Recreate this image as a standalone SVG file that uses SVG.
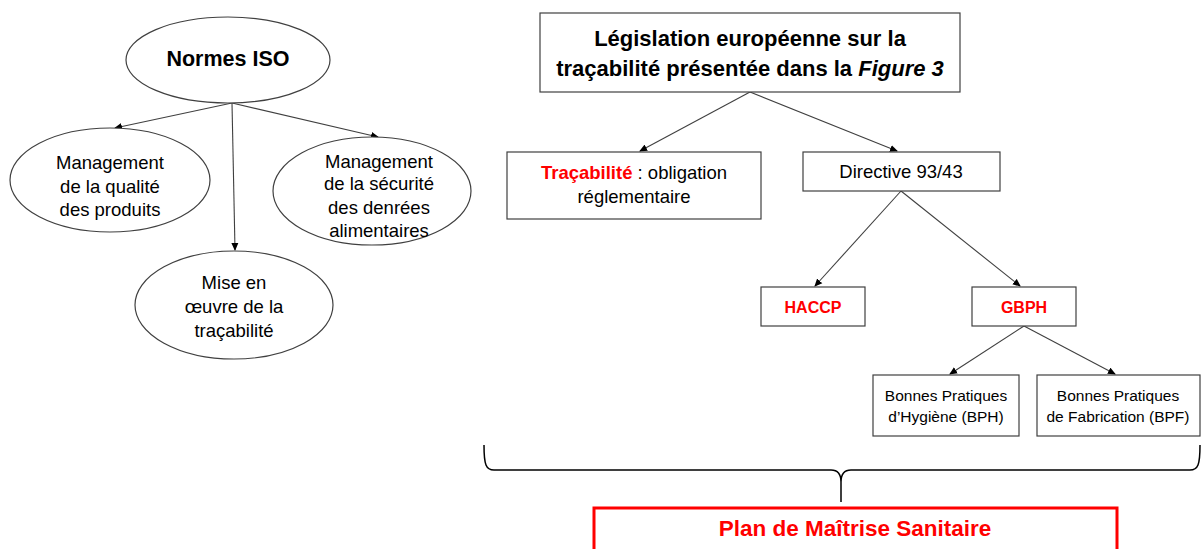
<svg xmlns="http://www.w3.org/2000/svg" width="1201" height="549" viewBox="0 0 1201 549">
<style>
.shape{fill:#fff;stroke:#404040;stroke-width:1.2}
.conn{stroke:#404040;stroke-width:1.1;fill:none}
text{font-family:"Liberation Sans",Arial,sans-serif;fill:#000;text-anchor:middle}
.t17{font-size:18.5px}
.t18{font-size:18.5px}
.t15{font-size:15.5px}
.b{font-weight:bold}
.red{fill:#ff0000}
</style>
<defs>
<marker id="ah" markerWidth="8" markerHeight="8" refX="7" refY="4" orient="auto" markerUnits="userSpaceOnUse">
<path d="M0,0.5 L8,4 L0,7.5 z" fill="#000"/>
</marker>
</defs>
<g id="connectors">
<line class="conn" x1="232" y1="103" x2="115" y2="128" marker-end="url(#ah)"/>
<line class="conn" x1="232" y1="103" x2="235" y2="250" marker-end="url(#ah)"/>
<line class="conn" x1="232" y1="103" x2="378" y2="137" marker-end="url(#ah)"/>
<line class="conn" x1="750" y1="92" x2="640" y2="151" marker-end="url(#ah)"/>
<line class="conn" x1="750" y1="92" x2="897" y2="151" marker-end="url(#ah)"/>
<line class="conn" x1="901" y1="191" x2="815" y2="286" marker-end="url(#ah)"/>
<line class="conn" x1="901" y1="191" x2="1020" y2="286" marker-end="url(#ah)"/>
<line class="conn" x1="1024" y1="326" x2="950" y2="374" marker-end="url(#ah)"/>
<line class="conn" x1="1024" y1="326" x2="1115" y2="374" marker-end="url(#ah)"/>
<path class="conn" d="M484,445 C484,465 486,470 494,470 L831,470 C838,470 841,474 841,482 L841,502 M841,482 C841,474 844,470 851,470 L1190,470 C1198,470 1200,465 1200,445" style="stroke:#000;stroke-width:1.5"/>
</g>
<g id="normes-iso">
<ellipse class="shape" cx="228" cy="60" rx="102" ry="43"/>
<text class="b" x="228" y="66" font-size="21.5">Normes ISO</text>
</g>
<g id="qualite">
<ellipse class="shape" cx="110" cy="180" rx="100" ry="52"/>
<text class="t17" x="110" y="169">Management</text>
<text class="t17" x="110" y="193">de la qualité</text>
<text class="t17" x="110" y="216">des produits</text>
</g>
<g id="securite">
<ellipse class="shape" cx="372" cy="191" rx="99" ry="54"/>
<text class="t17" x="379" y="168">Management</text>
<text class="t17" x="379" y="190">de la sécurité</text>
<text class="t17" x="379" y="214">des denrées</text>
<text class="t17" x="379" y="237">alimentaires</text>
</g>
<g id="mise-en-oeuvre">
<ellipse class="shape" cx="234" cy="305" rx="99" ry="54"/>
<text class="t17" x="234" y="289">Mise en</text>
<text class="t17" x="234" y="313">œuvre de la</text>
<text class="t17" x="234" y="337">traçabilité</text>
</g>
<g id="legislation">
<rect class="shape" x="540" y="13" width="420" height="79"/>
<text class="b" x="750" y="46" font-size="22">Législation européenne sur la</text>
<text class="b" x="750" y="76" font-size="22">traçabilité présentée dans la <tspan font-style="italic">Figure 3</tspan></text>
</g>
<g id="tracabilite">
<rect class="shape" x="507" y="152" width="254" height="67"/>
<text class="t18" x="634" y="179"><tspan class="b red">Traçabilité</tspan> : obligation</text>
<text class="t18" x="634" y="203">réglementaire</text>
</g>
<g id="directive">
<rect class="shape" x="803" y="152" width="197" height="39"/>
<text class="t18" x="901" y="178">Directive 93/43</text>
</g>
<g id="haccp">
<rect class="shape" x="761" y="287" width="104" height="39"/>
<text class="b red" x="813" y="313" font-size="16">HACCP</text>
</g>
<g id="gbph">
<rect class="shape" x="972" y="287" width="104" height="39"/>
<text class="b red" x="1024" y="313" font-size="16">GBPH</text>
</g>
<g id="bph">
<rect class="shape" x="873" y="375" width="146" height="61"/>
<text class="t15" x="946" y="401">Bonnes Pratiques</text>
<text class="t15" x="946" y="422">d’Hygiène (BPH)</text>
</g>
<g id="bpf">
<rect class="shape" x="1037" y="375" width="163" height="61"/>
<text class="t15" x="1118" y="401">Bonnes Pratiques</text>
<text class="t15" x="1118" y="422">de Fabrication (BPF)</text>
</g>
<g id="plan">
<rect x="594" y="508" width="523" height="60" fill="#fff" stroke="#ff0000" stroke-width="3"/>
<text class="b red" x="855" y="536" font-size="22.5">Plan de Maîtrise Sanitaire</text>
</g>
</svg>
